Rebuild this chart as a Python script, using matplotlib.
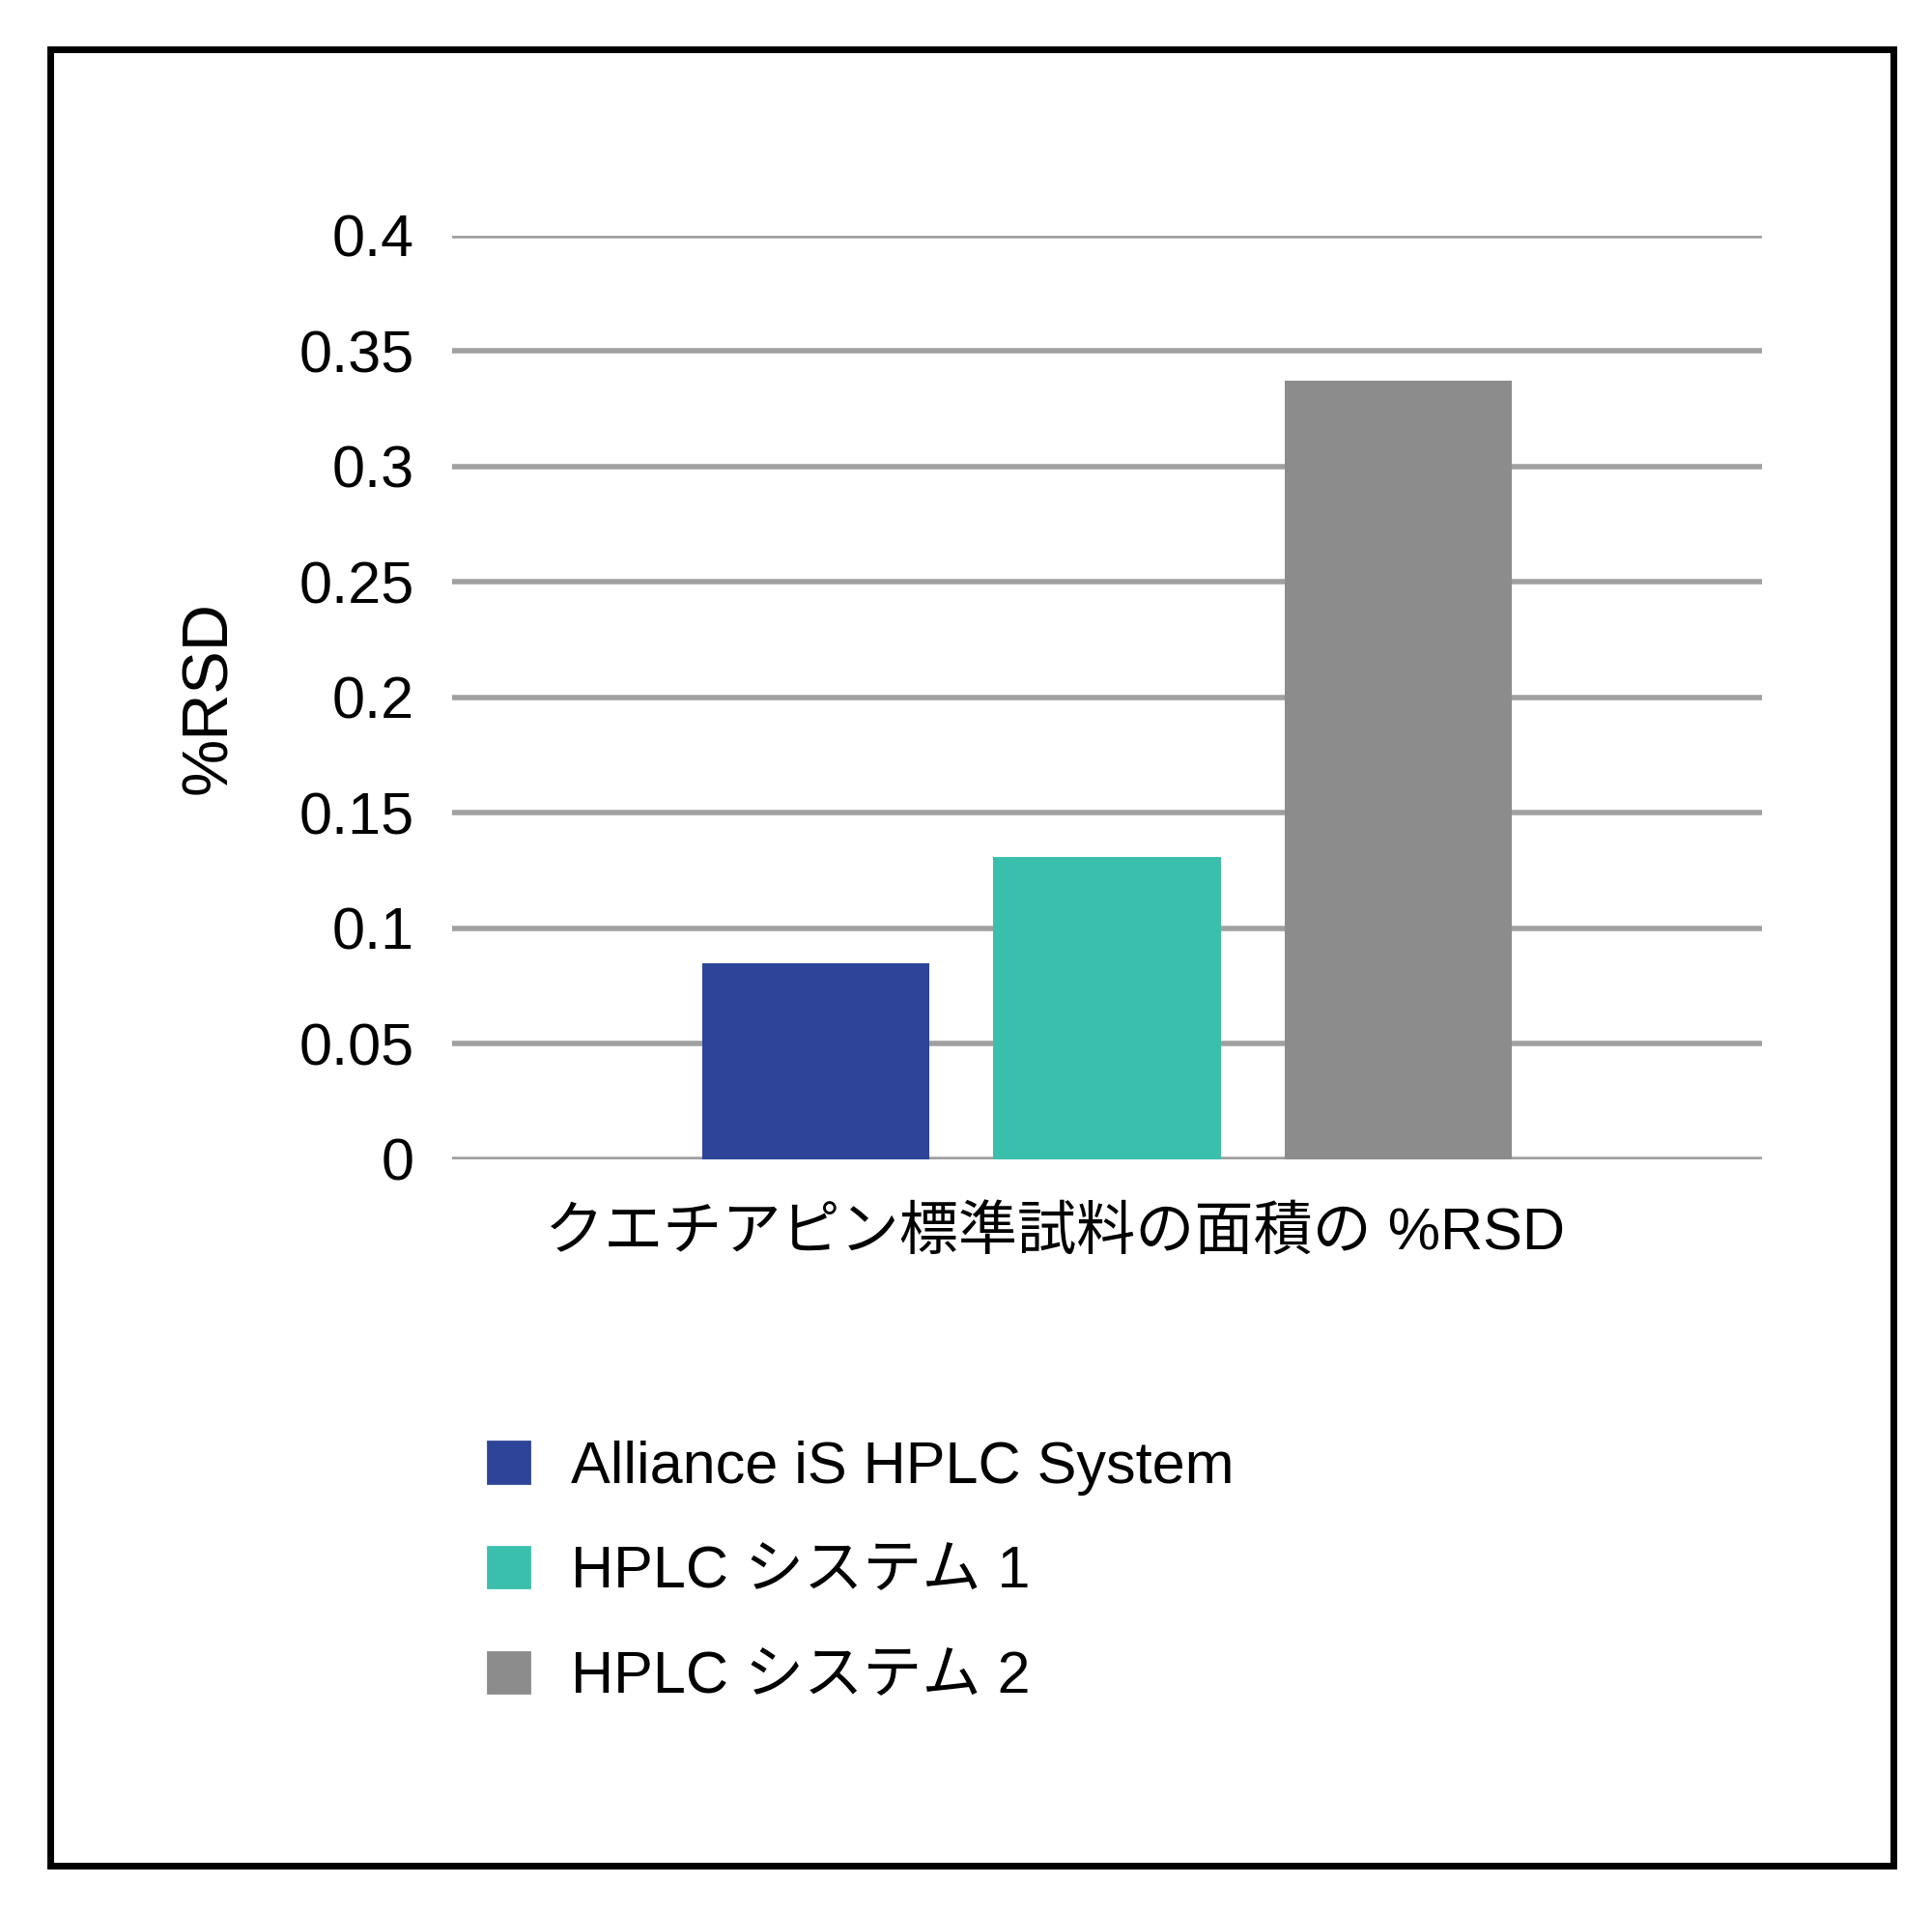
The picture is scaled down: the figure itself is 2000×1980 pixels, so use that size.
import matplotlib
matplotlib.use("Agg")
import matplotlib.pyplot as plt
from matplotlib.patches import Rectangle, Patch

plt.rcParams['font.family'] = ['Liberation Sans', 'Noto Sans CJK JP', 'DejaVu Sans']

series = ["Alliance iS HPLC System", "HPLC システム 1", "HPLC システム 2"]
values = [0.085, 0.131, 0.337]
colors = ["#2E4499", "#3BBFAD", "#8C8C8C"]
yticks = [0, 0.05, 0.1, 0.15, 0.2, 0.25, 0.3, 0.35, 0.4]
ytick_labels = ["0", "0.05", "0.1", "0.15", "0.2", "0.25", "0.3", "0.35", "0.4"]
xlabel = "クエチアピン標準試料の面積の %RSD"

fig = plt.figure(figsize=(10, 9.9), dpi=200)
fig.patches.append(Rectangle((0.026, 0.025), 0.954, 0.949, transform=fig.transFigure,
                             fill=False, edgecolor="black", linewidth=2.5))
ax = fig.add_axes([0.234, 0.394, 0.678, 0.483])
pos = [-1, 0, 1]
for p, v, c in zip(pos, values, colors):
    ax.bar(p, v, width=0.78, color=c, zorder=3)
ax.set_xlim(-2.25, 2.25)
ax.set_ylim(0, 0.4)
ax.set_yticks(yticks)
ax.set_yticklabels(ytick_labels, fontsize=22)
ax.yaxis.grid(True, color="#A0A0A0", linewidth=2, zorder=0)
ax.tick_params(axis='y', length=0, pad=14)
ax.set_xticks([])
for s in ax.spines.values():
    s.set_visible(False)
ax.set_ylabel("%RSD", fontsize=24, labelpad=22)
ax.set_xlabel(xlabel, fontsize=22, labelpad=18, x=0.46)
ax.set_axisbelow(True)
ax.set_clip_on(False)

handles = [Patch(color=c) for c in colors]
fig.legend(handles, series, loc="upper left", bbox_to_anchor=(0.225, 0.275), frameon=False,
           fontsize=22, handlelength=0.7, handleheight=0.7, handletextpad=0.7, labelspacing=0.85)
fig.savefig("out.png", dpi=200)
